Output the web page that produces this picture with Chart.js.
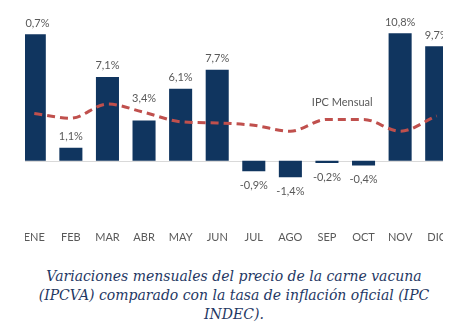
<!DOCTYPE html>
<html>
<head>
<meta charset="utf-8">
<script src="https://cdn.jsdelivr.net/npm/chart.js@4.4.1/dist/chart.umd.min.js"></script>
<style>
  html, body { margin: 0; padding: 0; background: #ffffff; }
  body { width: 468px; height: 331px; overflow: hidden; position: relative; }
  #wrap { position: absolute; left: 0; top: 0; width: 468px; height: 261px; clip-path: inset(0px 25px 0px 25px); }
  #caption {
    position: absolute; left: 0; top: 267px; width: 468px; text-align: center;
    font-family: "DejaVu Serif", serif; font-style: italic; font-size: 14px;
    line-height: 19px; color: #1f3864;
  }
</style>
</head>
<body>
<div id="wrap"><canvas id="c" width="468" height="261"></canvas></div>
<div id="caption">Variaciones mensuales del precio de la carne vacuna<br>(IPCVA) comparado con la tasa de inflación oficial (IPC<br>INDEC).</div>
<script>
const months = ["ENE","FEB","MAR","ABR","MAY","JUN","JUL","AGO","SEP","OCT","NOV","DIC"];
const carneVacuna = [10.7, 1.1, 7.1, 3.4, 6.1, 7.7, -0.9, -1.4, -0.2, -0.4, 10.8, 9.7];
const ipcMensual = [4.0, 3.6, 4.8, 4.1, 3.3, 3.2, 3.0, 2.5, 3.5, 3.5, 2.5, 3.8];
const lineLabel = "IPC Mensual";

const fmt = v => v.toFixed(1).replace('.', ',') + '%';

const helpers = {
  id: 'helpers',
  beforeDatasetsDraw(chart) {
    const ctx = chart.ctx, a = chart.chartArea, y = chart.scales.y;
    const y0 = y.getPixelForValue(0);
    ctx.save();
    ctx.strokeStyle = '#d9d9d9';
    ctx.lineWidth = 1;
    ctx.beginPath();
    ctx.moveTo(a.left, Math.round(y0) + 0.5);
    ctx.lineTo(a.right, Math.round(y0) + 0.5);
    ctx.stroke();
    ctx.restore();
  },
  afterDatasetsDraw(chart) {
    const ctx = chart.ctx;
    const meta = chart.getDatasetMeta(0);
    const lineMeta = chart.getDatasetMeta(1);
    ctx.save();
    ctx.font = '11px Lato';
    ctx.fillStyle = '#595959';
    ctx.textAlign = 'center';
    ctx.textBaseline = 'middle';
    meta.data.forEach((bar, i) => {
      const v = carneVacuna[i];
      let ty = v >= 0 ? bar.y - 11 : bar.y + 14;
      // avoid collision with the line: move label above the line point
      const ly = lineMeta.data[i].y;
      if (v >= 0 && Math.abs(ty - ly) < 9) ty = ly - 14;
      ctx.fillText(fmt(v), bar.x, ty);
    });
    // series label for the line
    const xs = chart.scales.x, ys = chart.scales.y;
    const lx = (xs.getPixelForValue(8) + xs.getPixelForValue(9)) / 2 - 3;
    const lyy = ys.getPixelForValue(4.9);
    ctx.fillText(lineLabel, lx, lyy);
    ctx.restore();
  }
};

new Chart(document.getElementById('c'), {
  data: {
    labels: months,
    datasets: [
      {
        type: 'bar',
        data: carneVacuna,
        backgroundColor: '#10355f',
        barPercentage: 0.63,
        categoryPercentage: 1.0,
        order: 1
      },
      {
        type: 'line',
        data: ipcMensual,
        borderColor: '#c0504d',
        borderWidth: 3,
        borderDash: [8, 5],
        pointRadius: 0,
        cubicInterpolationMode: 'monotone',
        fill: false,
        order: 0
      }
    ]
  },
  options: {
    responsive: false,
    animation: false,
    layout: { padding: { left: 16, right: 13, top: 19, bottom: 6 } },
    plugins: { legend: { display: false }, tooltip: { enabled: false } },
    scales: {
      x: {
        grid: { display: false, drawTicks: false },
        border: { display: false },
        ticks: { color: '#595959', font: { family: 'Lato', size: 11 }, padding: 11 }
      },
      y: {
        display: false,
        min: -5,
        max: 12
      }
    }
  },
  plugins: [helpers]
});
</script>
</body>
</html>
